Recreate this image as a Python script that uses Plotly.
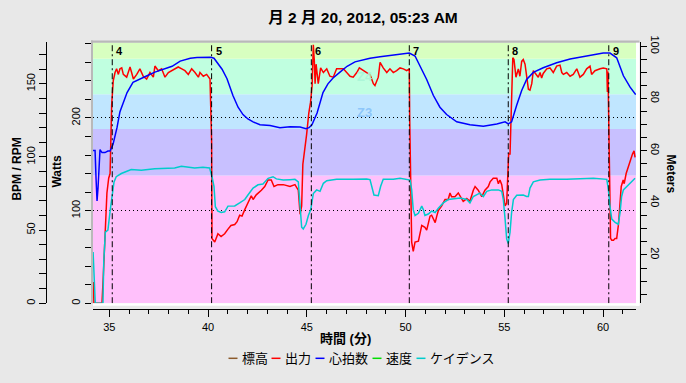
import plotly.graph_objects as go

# ---------------- data ----------------
hr_t = [34.12, 34.28, 34.33, 34.38, 34.43, 34.48, 34.53, 34.63, 34.78, 34.93, 35.04, 35.19, 35.39, 35.54,
        35.74, 35.90, 36.20, 36.55, 36.91, 37.31, 37.72, 38.18, 38.59, 39.10, 39.44, 39.85, 40.15, 40.30,
        40.50, 40.71, 40.96, 41.26, 41.52, 41.77, 42.02, 42.28, 42.63, 43.14, 43.64, 44.15, 44.66, 44.96,
        45.11, 45.26, 45.52, 45.82, 46.07, 46.33, 46.68, 47.04, 47.44, 47.85, 48.20, 48.71, 49.21, 49.87,
        50.19, 50.48, 50.73, 51.07, 51.41, 51.74, 52.08, 52.59, 53.26, 53.94, 54.62, 55.04, 55.20, 55.37,
        55.63, 55.88, 56.13, 56.47, 56.97, 57.65, 58.33, 59.17, 60.01, 60.35, 60.69, 61.03, 61.37, 61.65]
hr_bpm = [104.5, 104.5, 85, 70, 79, 95, 105, 103, 103, 104, 104, 108.7, 120, 131,
          139, 144, 151, 153.5, 155.5, 158, 160, 162, 165.5, 167.5, 168, 168.2, 168.2, 167.5,
          164, 160, 153.5, 142, 134, 129, 126, 124, 122, 121.5, 120, 120.7, 120.5, 119.3,
          120, 122, 130, 144, 150, 154, 158, 162, 165, 166.5, 167.5, 168.5, 169.5, 170.5,
          171, 169, 162, 153, 142, 134, 129, 124, 122, 121, 122.6, 124, 122.6, 124,
          135.5, 145.5, 153, 157.8, 161, 164.4, 167, 169, 171, 171, 167.8, 155.5, 147.7, 142.6]

power_t = [34.12, 34.20, 34.22, 34.63, 34.70, 34.79, 34.88, 34.97, 35.04, 35.12,
           35.20, 35.29, 35.37, 35.46, 35.54, 35.63, 35.71, 35.88, 36.05, 36.13, 36.22, 36.39, 36.55,
           36.72, 36.89, 37.06, 37.23, 37.31, 37.48, 37.65, 37.82, 37.99, 38.16, 38.33, 38.49, 38.67,
           38.83, 39.00, 39.17, 39.34, 39.51, 39.59, 39.76, 39.93, 40.10, 40.18,
           40.20, 40.34, 40.50, 40.66, 40.84, 41.01, 41.16, 41.35, 41.47, 41.60, 41.72, 41.86, 42.02,
           42.19, 42.28, 42.44, 42.70, 42.87, 43.04, 43.20, 43.34, 43.54, 43.81, 44.15, 44.40, 44.57,
           44.66, 44.74, 44.80, 44.90, 44.99, 45.10, 45.19, 45.27, 45.33, 45.38, 45.42, 45.47,
           45.58, 45.70, 45.84, 46.01, 46.17, 46.34, 46.51, 46.68, 46.85, 47.02, 47.19, 47.35, 47.53,
           47.66, 47.86, 48.03, 48.20, 48.37, 48.45, 48.62, 48.71, 48.87, 49.05, 49.21, 49.38, 49.55,
           49.72, 49.89, 50.06, 50.19, 50.21, 50.24,
           50.31, 50.39, 50.48, 50.65, 50.73, 50.82, 50.98, 51.07, 51.15, 51.24, 51.32, 51.41, 51.50,
           51.58, 51.66, 51.83, 52.00, 52.16, 52.25, 52.33, 52.50, 52.67, 52.76, 52.92, 53.10, 53.26,
           53.43, 53.52, 53.68, 53.86, 54.02, 54.19, 54.28, 54.44, 54.62, 54.70, 54.78, 54.87, 54.95,
           55.04, 55.12, 55.22, 55.29, 55.37, 55.43, 55.49, 55.59, 55.71, 55.79, 55.88, 55.96, 56.05,
           56.13, 56.22, 56.30, 56.39, 56.47, 56.64, 56.72, 56.81, 56.89, 56.97, 57.15, 57.31, 57.48,
           57.65, 57.82, 57.91, 57.99, 58.16, 58.33, 58.49, 58.67, 58.83, 59.00, 59.17, 59.34, 59.42,
           59.59, 59.85, 60.01, 60.19, 60.22, 60.25, 60.29, 60.33, 60.38, 60.44, 60.53, 60.61, 60.69,
           60.78, 60.82, 60.92, 61.02, 61.07, 61.17, 61.24, 61.32, 61.40, 61.49, 61.57, 61.62]
power_w = [22, 22, 0, 0, 31, 77, 119, 135, 140, 214,
           240, 249, 253, 247, 253, 254, 247, 244, 255, 249, 242, 247, 253,
           245, 242, 249, 244, 256, 251, 253, 244, 249, 251, 253, 255, 253,
           251, 247, 253, 249, 244, 249, 245, 247, 242, 175,
           70, 66, 75, 72, 75, 80, 84, 85, 88, 95, 94, 101, 108,
           116, 112, 117, 122, 126, 133, 133, 126, 128, 128, 126, 128, 122,
           96, 105, 150, 165, 182, 205, 217, 235, 279, 262, 237, 258,
           237, 254, 249, 253, 245, 244, 253, 253, 253, 249, 245, 244, 249,
           254, 251, 249, 247, 237, 235, 244, 260, 254, 249, 253, 249, 251,
           254, 253, 251, 253, 200, 150,
           66, 56, 66, 67, 77, 84, 82, 79, 86, 94, 95, 91, 87,
           94, 100, 105, 112, 112, 119, 115, 115, 119, 116, 110, 113, 110,
           122, 126, 122, 115, 122, 126, 131, 135, 135, 129, 133, 128, 117,
           105, 108, 161, 161, 230, 265, 263, 244, 253, 245, 261, 263, 258,
           246, 231, 230, 237, 251, 246, 244, 249, 243, 248, 253, 254, 249,
           256, 257, 249, 247, 249, 245, 247, 253, 244, 247, 253, 256, 247,
           251, 253, 254, 253, 228, 250, 186, 120, 70, 68, 68, 70, 70,
           85, 98, 126, 133, 129, 140, 145, 150, 155, 161, 164.6, 157.5]

cad_t = [34.18, 34.26, 34.29, 34.68, 34.72, 34.80, 34.93, 35.05, 35.14, 35.24, 35.35, 35.61, 36.11,
         36.62, 37.30, 37.80, 38.31, 38.65, 38.98, 39.32, 39.74, 40.08, 40.20, 40.30, 40.37, 40.50,
         40.67, 40.84, 41.01, 41.35, 41.60, 41.86, 42.02, 42.28, 42.53, 42.78, 43.04, 43.29, 43.46,
         43.81, 44.15, 44.40, 44.57, 44.66, 44.74, 44.82, 44.96, 45.08, 45.20, 45.33, 45.50, 45.67,
         45.84, 46.01, 46.51, 47.35, 48.03, 48.20, 48.29, 48.40, 48.62, 48.74, 48.87, 49.38, 49.72,
         50.06, 50.23, 50.31, 50.39, 50.48, 50.65, 50.82, 50.90, 50.98, 51.15, 51.32, 51.50, 51.66,
         51.91, 52.16, 52.42, 52.76, 53.10, 53.26, 53.43, 53.76, 53.94, 54.11, 54.36, 54.70, 54.87,
         54.95, 55.04, 55.12, 55.20, 55.29, 55.37, 55.46, 55.63, 55.96, 56.13, 56.22, 56.30, 56.47,
         56.81, 57.31, 58.16, 59.00, 59.51, 60.19, 60.27, 60.35, 60.44, 60.61, 60.77, 60.86, 60.94,
         61.03, 61.20, 61.45, 61.62]
cad_rpm = [35, 10.7, 0, 0, 28.5, 48.6, 50, 64, 74, 83, 86.5, 88.7, 91.4,
           91, 92, 92, 92.5, 93.6, 93, 92.5, 93, 92.5, 86.5, 80, 66, 63,
           62, 62.5, 66.4, 66.5, 68.6, 70.9, 74, 78.7, 81, 81.5, 85.4, 86.5, 85,
           84.2, 84.5, 84.7, 83, 68.6, 52, 50.8, 54, 60, 64, 75, 77.5, 76.5,
           82, 83.8, 84.7, 84.7, 85, 84.5, 80, 74, 73.5, 80, 84.7, 84.7, 85.4,
           84.7, 84.2, 77.5, 64, 60, 61.5, 66.4, 64, 60, 61, 63, 62, 65,
           68.6, 70.9, 71.5, 72, 70.9, 68.6, 73, 75.3, 73, 76.5, 77.5, 77.5, 76.5,
           70.9, 57.5, 44, 40.8, 48.6, 62, 70.9, 73.8, 74, 73, 73, 78.7, 83,
           84.2, 84.7, 84.7, 85.4, 85.4, 84.7, 77.5, 66.4, 57.5, 55.3, 54, 62, 73,
           77.5, 80, 83, 85.4]

alt_t = [None]
alt_m = [None]
speed_t = [None]
speed_v = [None]

marker_t = [35.15, 40.18, 45.23, 50.19, 55.20, 60.29]
marker_lbl = ["4", "5", "6", "7", "8", "9"]

zone_lo = [0, 138, 188, 225.5, 264]
zone_hi = [138, 188, 225.5, 264, 400]
zone_col = ["#ffc0fb", "#c8c0ff", "#c0e6ff", "#c0ffe0", "#d8ffc0"]
zone_lbl = ["Z3", "Z4"]
zone_lbl_w = [206, 245]
zone_lbl_col = ["rgba(135,195,250,0.9)", "rgba(170,245,215,0.9)"]

legend_names = ["標高", "出力", "心拍数", "速度", "ケイデンス"]
legend_cols = ["#8b5a2b", "#ff0000", "#0000ff", "#00dd00", "#00cccc"]

title_txt = "月 2 月 20, 2012, 05:23 AM"
xtitle = "時間 (分)"

# ---------------- layout helpers ----------------
W, H = 686, 383
ML, MR, MT, MB = 10, 10, 10, 10
PW, PH = W - ML - MR, H - MT - MB


def px(x):
    return (x - ML) / PW


def py(y):
    return (H - MB - y) / PH


FONT = "Liberation Sans, Noto Sans CJK JP, DejaVu Sans, sans-serif"
BG = "#e8e8e8"

fig = go.Figure()

fig.add_trace(go.Scatter(x=alt_t, y=alt_m, yaxis="y3", mode="lines",
                         line=dict(color=legend_cols[0], width=1.5), name=legend_names[0], showlegend=False))
fig.add_trace(go.Scatter(x=power_t, y=power_w, yaxis="y", mode="lines",
                         line=dict(color="#ff0000", width=1.5), name=legend_names[1], showlegend=False))
fig.add_trace(go.Scatter(x=speed_t, y=speed_v, yaxis="y3", mode="lines",
                         line=dict(color=legend_cols[3], width=1.5), name=legend_names[3], showlegend=False))
fig.add_trace(go.Scatter(x=cad_t, y=cad_rpm, yaxis="y2", mode="lines",
                         line=dict(color="#00cccc", width=1.5), name=legend_names[4], showlegend=False))
fig.add_trace(go.Scatter(x=hr_t, y=hr_bpm, yaxis="y2", mode="lines",
                         line=dict(color="#0000ff", width=1.5), name=legend_names[2], showlegend=False))

shapes = []
for lo, hi, c in zip(zone_lo, zone_hi, zone_col):
    shapes.append(dict(type="rect", xref="paper", yref="y", x0=px(93), x1=px(636), y0=lo, y1=hi,
                       fillcolor=c, line=dict(width=0), layer="between"))
for t in marker_t:
    shapes.append(dict(type="line", xref="x", yref="paper", x0=t, x1=t, y0=py(302.7), y1=py(36),
                       line=dict(color="black", width=1, dash="6px,3px,2px,3px"), layer="above"))
# canvas frame
shapes += [
    dict(type="rect", xref="paper", yref="paper", x0=px(91), x1=px(639.5), y0=py(36.3), y1=py(34),
         fillcolor="#b9b9b9", line=dict(width=0)),
    dict(type="rect", xref="paper", yref="paper", x0=px(91), x1=px(93), y0=py(302.7), y1=py(34),
         fillcolor="#b9b9b9", line=dict(width=0)),
    dict(type="rect", xref="paper", yref="paper", x0=px(636), x1=px(639.5), y0=py(305.3), y1=py(36.3),
         fillcolor="#ffffff", line=dict(width=0)),
    dict(type="rect", xref="paper", yref="paper", x0=px(93), x1=px(639.5), y0=py(305.3), y1=py(302.7),
         fillcolor="#ffffff", line=dict(width=0)),
]

ann = []


def add_text(x, y, text, size=12, angle=0, xanchor="center", color="black", xref="paper", yref="paper",
             xshift=0):
    ann.append(dict(x=x, y=y, xref=xref, yref=yref, text=text, showarrow=False, textangle=angle,
                    xanchor=xanchor, yanchor="middle", xshift=xshift,
                    font=dict(size=size, color=color, family=FONT)))


for t, l in zip(marker_t, marker_lbl):
    add_text(t, py(45), "<b>%s</b>" % l, size=11, xanchor="left", xref="x", xshift=2)
for l, w, c in zip(zone_lbl, zone_lbl_w, zone_lbl_col):
    add_text(px(364.5), w, "<b>%s</b>" % l, size=13, color=c, yref="y")
add_text(px(17), py(166), "<b>BPM / RPM</b>", angle=-90)
add_text(px(57), py(168), "<b>Watts</b>", angle=-90)
add_text(px(671), py(170), "<b>Meters</b>", angle=90)
add_text(px(345), py(339), "<b>%s</b>" % xtitle, size=13)

# legend drawn as coloured dashes + text
leg_dash_x = [233, 276, 320, 377, 421]
for xd, c, n in zip(leg_dash_x, legend_cols, legend_names):
    shapes.append(dict(type="line", xref="paper", yref="paper", x0=px(xd - 4.5), x1=px(xd + 4.5),
                       y0=py(359), y1=py(359), line=dict(color=c, width=1.5)))
    add_text(px(xd + 7), py(359), n, size=13, xanchor="left")

fig.update_layout(
    width=W, height=H,
    margin=dict(l=ML, r=MR, t=MT, b=MB, pad=0),
    paper_bgcolor=BG, plot_bgcolor="#ffffff",
    font=dict(family=FONT, size=11, color="black"),
    showlegend=False,
    title=dict(text="<b>%s</b>" % title_txt, x=363 / W, xanchor="center", xref="container",
               y=1 - 18 / H, yanchor="middle", yref="container",
               font=dict(size=15.5, color="black", family=FONT)),
    xaxis=dict(domain=[px(93), px(636)], range=[34.175, 61.668], anchor="free", position=py(309),
               showline=True, linecolor="black", linewidth=1, ticks="outside", ticklen=7, tickwidth=1,
               tickcolor="black", dtick=5, tick0=0, showgrid=False, zeroline=False,
               minor=dict(dtick=1, tick0=0, ticks="outside", ticklen=4, tickcolor="black", showgrid=False),
               tickfont=dict(size=11)),
    yaxis=dict(domain=[py(302.7), py(36)], range=[0, 281.5], anchor="free", position=px(90.7),
               showline=True, linecolor="black", linewidth=1, ticks="outside", ticklen=6, tickcolor="black",
               dtick=100, tick0=0, tickangle=-90, showgrid=True, gridcolor="black", griddash="1px,3px",
               gridwidth=1, zeroline=False,
               minor=dict(dtick=20, tick0=0, ticks="outside", ticklen=6, tickcolor="black", showgrid=False),
               tickfont=dict(size=11)),
    yaxis2=dict(domain=[py(302.7), py(36)], range=[0, 178.3], anchor="free", position=px(46),
                overlaying="y", side="left",
                showline=True, linecolor="black", linewidth=1, ticks="outside", ticklen=7, tickcolor="black",
                dtick=50, tick0=0, tickangle=-90, showgrid=False, zeroline=False,
                minor=dict(dtick=10, tick0=0, ticks="outside", ticklen=7, tickcolor="black", showgrid=False),
                tickfont=dict(size=11)),
    yaxis3=dict(domain=[py(302.7), py(36)], range=[1.5, 101.5], anchor="free", position=px(640),
                overlaying="y", side="right",
                showline=True, linecolor="black", linewidth=1, ticks="outside", ticklen=6, tickcolor="black",
                dtick=20, tick0=0, tickangle=90, showgrid=False, zeroline=False,
                minor=dict(dtick=5, tick0=0, ticks="outside", ticklen=6, tickcolor="black", showgrid=False),
                tickfont=dict(size=11)),
    shapes=shapes,
    annotations=ann,
)

# the page body has no margin so the figure sits at the window's top-left corner
fig.write_html("out.html", config={"displayModeBar": False},
               post_script="document.body.style.margin='0';document.body.style.background='%s';" % BG)
